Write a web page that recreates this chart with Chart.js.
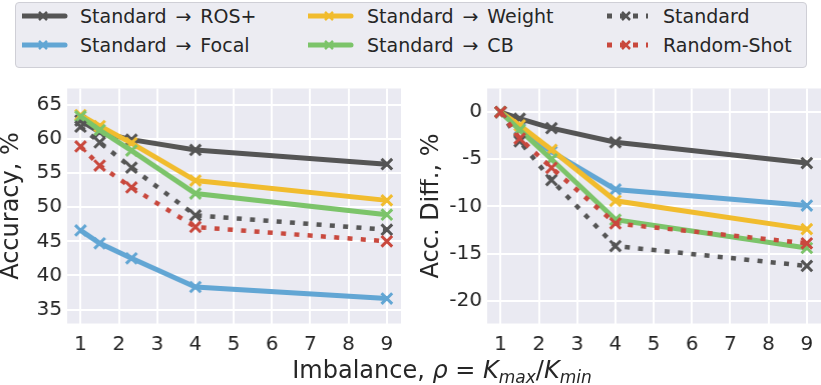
<!DOCTYPE html>
<html>
<head>
<meta charset="utf-8">
<script src="https://cdn.jsdelivr.net/npm/chart.js@4.4.1/dist/chart.umd.min.js"></script>
<style>
  body{margin:0;width:821px;height:385px;background:#fff;overflow:hidden;position:relative;font-family:"DejaVu Sans",sans-serif;color:#262626}
  /* chart.js keeps 10.5px room for the point markers, so the panes are offset by that */
  .pane{position:absolute;top:77.5px;height:302.5px;width:410.5px}
  #legend{position:absolute;left:15px;top:2px;width:790px;height:64px;border:1px solid #cfcfd6;border-radius:4px;background:#ececf2}
  .item{position:absolute;height:24px;font-size:19px;line-height:24px;white-space:nowrap}
  .item svg{position:absolute;top:0;left:0}
  .item > span{position:absolute;top:0}
  .arrow{margin:0 9px}
  #xtitle{position:absolute;left:0;width:884px;text-align:center;top:356px;font-size:24px;white-space:nowrap}
  #xtitle sub{font-size:17px;vertical-align:-5px}
</style>
</head>
<body>
<div id="legend"></div>
<div class="pane" style="left:0"><canvas id="plot"></canvas></div>
<div class="pane" style="left:420px"><canvas id="plot1"></canvas></div>
<div id="xtitle">Imbalance, <i>ρ</i> = <i>K<sub>max</sub></i>/<i>K<sub>min</sub></i></div>
<script>
// x values (imbalance ratio) and axis ticks
const imbalance = [1, 1.5, 2.33, 4, 9];
const xTicks = [1, 2, 3, 4, 5, 6, 7, 8, 9];
const accTicks = [35, 40, 45, 50, 55, 60, 65];
const diffTicks = [-20, -15, -10, -5, 0];

// left panel: accuracy, %
const accRos = [62.7, 61.0, 59.9, 58.4, 56.3];
const accFocal = [46.6, 44.7, 42.5, 38.3, 36.6];
const accWeight = [63.5, 61.9, 59.4, 53.9, 51.0];
const accCB = [63.3, 61.3, 58.3, 52.0, 48.9];
const accStandard = [61.8, 59.5, 55.8, 48.8, 46.7];
const accRandom = [58.9, 56.1, 52.9, 47.1, 45.0];

// right panel: accuracy difference, %
const diffRos = [0, -0.7, -1.7, -3.2, -5.4];
const diffFocal = [0, -1.8, -4.2, -8.2, -9.9];
const diffWeight = [0, -1.4, -4.0, -9.4, -12.4];
const diffCB = [0, -1.9, -5.0, -11.4, -14.4];
const diffStandard = [0, -3.1, -7.2, -14.2, -16.3];
const diffRandom = [0, -2.8, -5.9, -11.8, -13.9];

const labels = ['Standard → ROS+', 'Standard → Focal', 'Standard → Weight', 'Standard → CB', 'Standard', 'Random-Shot'];
const colors = ['#555555', '#62a6d4', '#f1bc2e', '#7cc46a', '#555555', '#c9483d'];
const dotted = [false, false, false, false, true, true];

// legend (3 columns, column-major like matplotlib)
const legendPos = [
  {x: 22, y: 4, tx: 58}, {x: 22, y: 33, tx: 58},
  {x: 308, y: 4, tx: 59}, {x: 308, y: 33, tx: 59},
  {x: 607, y: 4, tx: 56}, {x: 607, y: 33, tx: 56}
];
const legend = document.querySelector('#legend')
labels.forEach((lab, i) => {
  const p = legendPos[i]
  const c = colors[i]
  const line = dotted[i]
    ? `<line x1="0" y1="12" x2="41" y2="12" stroke="${c}" stroke-width="5" stroke-dasharray="5 8"/>`
    : `<line x1="0" y1="12" x2="43" y2="12" stroke="${c}" stroke-width="5" stroke-linecap="round"/>`
  const cx = dotted[i] ? 19 : 21
  const text = lab.replace(' → ', '<span class="arrow">→</span>')
  legend.insertAdjacentHTML('beforeend', `
    <div class="item" style="left:${p.x - 16}px;top:${p.y - 3}px">
      <svg width="50" height="24">${line}
        <path d="M${cx-4} 8 L${cx+4} 16 M${cx+4} 8 L${cx-4} 16" stroke="${c}" stroke-width="2.5"/></svg>
      <span style="left:${p.tx}px">${text}</span>
    </div>`)
})

const bgPlugin = {
  id: 'bg',
  beforeDraw(chart){
    const a = chart.chartArea
    const ctx = chart.ctx
    ctx.save()
    ctx.fillStyle = '#eaeaf2'
    ctx.fillRect(a.left, a.top, a.right - a.left, a.bottom - a.top)
    ctx.restore()
  }
}

// drop the auto padding chart.js adds for edge tick labels
const noPad = scale => {
  scale.paddingTop = 0
  scale.paddingBottom = 0
  scale.paddingLeft = 0
  scale.paddingRight = 0
}

const makeChart = (el, series, yMin, yMax, yTicks, yTitle) => {
  const order = [6, 5, 4, 3, 2, 1]
  return new Chart(el, {
    type: 'line',
    data: {
      datasets: series.map((s, i) => ({
        label: labels[i],
        data: imbalance.map((x, j) => ({x: x, y: s[j]})),
        borderColor: colors[i],
        backgroundColor: colors[i],
        borderWidth: dotted[i] ? 4.5 : 5,
        borderDash: dotted[i] ? [5, 8.3] : [],
        borderCapStyle: 'butt',
        pointStyle: 'crossRot',
        pointRadius: 7.5,
        pointBorderWidth: 3,
        pointBorderColor: colors[i],
        tension: 0,
        order: order[i]
      }))
    },
    options: {
      responsive: true,
      maintainAspectRatio: false,
      animation: false,
      events: [],
      layout: {padding: 0},
      plugins: {legend: {display: false}, tooltip: {enabled: false}},
      scales: {
        x: {
          type: 'linear',
          min: 0.65,
          max: 9.37,
          afterBuildTicks: scale => { scale.ticks = xTicks.map(v => ({value: v})) },
          afterFit: scale => { scale.height = 57; noPad(scale) },
          border: {display: false},
          grid: {color: '#ffffff', lineWidth: 2, drawTicks: false},
          ticks: {color: '#262626', padding: 9, maxRotation: 0, font: {family: 'DejaVu Sans', size: 20}}
        },
        y: {
          min: yMin,
          max: yMax,
          afterBuildTicks: scale => { scale.ticks = yTicks.map(v => ({value: v})) },
          afterFit: scale => { scale.width = 67; noPad(scale) },
          border: {display: false},
          grid: {color: '#ffffff', lineWidth: 2, drawTicks: false},
          ticks: {color: '#262626', padding: 5, font: {family: 'DejaVu Sans', size: 20}},
          title: {display: true, text: yTitle, color: '#262626', padding: 0, font: {family: 'DejaVu Sans', size: 24, lineHeight: 1}}
        }
      }
    },
    plugins: [bgPlugin]
  })
}

makeChart(document.getElementById('plot'),
  [accRos, accFocal, accWeight, accCB, accStandard, accRandom],
  32.95, 67.4, accTicks, 'Accuracy, %')
makeChart(document.getElementById('plot1'),
  [diffRos, diffFocal, diffWeight, diffCB, diffStandard, diffRandom],
  -22.4, 2.5, diffTicks, 'Acc. Diff., %')
</script>
</body>
</html>
